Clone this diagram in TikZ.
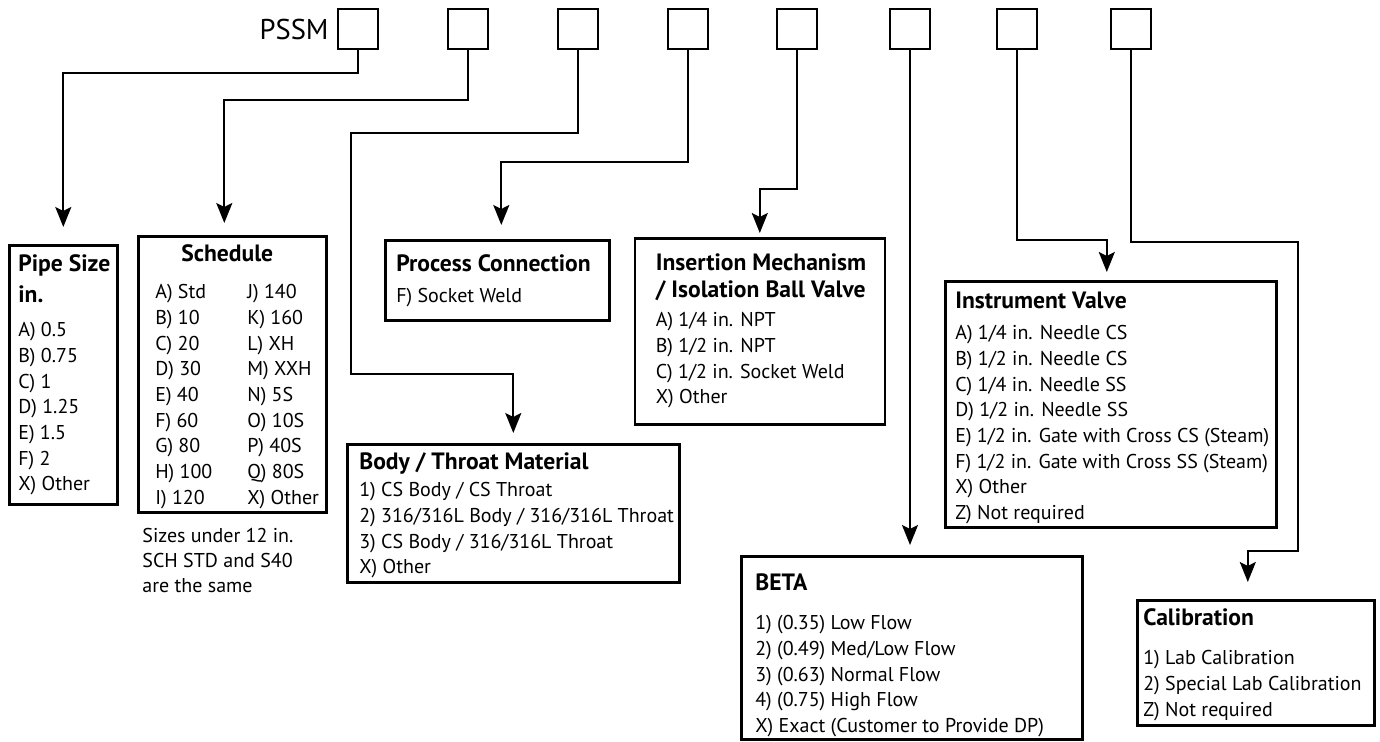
\documentclass[tikz,border=0pt]{standalone}
\usepackage{fontspec}
\setmainfont{PT Sans}
\usetikzlibrary{arrows.meta, positioning}
\newcommand{\optfont}{\fontsize{10}{12.85}\selectfont}
\newcommand{\opttitle}[1]{{\bfseries\fontsize{11.8}{12.85}\selectfont #1}}
\newcommand{\opttext}[4][@{}l@{}]{\parbox[b][#3][t]{#2}{\begin{tabular}[t]{#1}#4\end{tabular}}}

\begin{document}
\begin{tikzpicture}[
    x=0.5pt, y=-0.5pt,
    >={Stealth[length=10pt, width=8pt, inset=2pt]},
    digit/.style={draw, line width=1pt, minimum width=20pt, minimum height=20pt, inner sep=0pt},
    optbox/.style={draw, line width=1.3pt, anchor=north west, inner ysep=0pt, inner xsep=#1, font=\optfont},
    link/.style={->, line width=1pt},
]
    \useasboundingbox (0,0) rectangle (1380,742);

    % code boxes
    \foreach \x [count=\i] in {358,468,578,688,797,910,1017,1131}
        \node[digit] (d\i) at (\x,29) {};
    \node[font=\fontsize{14.3}{16}\selectfont, inner sep=0pt, left=4pt of d1] (pssm) {PSSM};

    % option boxes
    \node[optbox=4.5pt] (pipe) at (8,244) {\opttext{45pt}{129.5pt}{%
        \rule{0pt}{13pt}\opttitle{Pipe Size}\\[2.65pt]
        \opttitle{in.}\\[4.4pt]
        A) 0.5\\ B) 0.75\\ C) 1\\ D) 1.25\\ E) 1.5\\ F) 2\\ X) Other}};
    \node[optbox=8.5pt] (sched) at (137,235) {\opttext[@{}p{46pt}@{}l@{}]{77pt}{138pt}{%
        \multicolumn{2}{@{\hspace{13pt}}l@{}}{\rule{0pt}{12.5pt}\opttitle{Schedule}}\\[5.9pt]
        A) Std & J) 140\\ B) 10 & K) 160\\ C) 20 & L) XH\\
        D) 30 & M) XXH\\ E) 40 & N) 5S\\ F) 60 & O) 10S\\
        G) 80 & P) 40S\\ H) 100 & Q) 80S\\ I) 120 & X) Other}};
    \node[font=\fontsize{10}{12.5}\selectfont, align=left, inner sep=0pt,
        below right=7pt and 2.5pt of sched.south west] (schednote)
        {Sizes under 12 in.\\SCH STD and S40\\are the same};
    \node[optbox=5.5pt] (proc) at (384,239) {\opttext{101pt}{40pt}{%
        \rule{0pt}{15.5pt}\opttitle{Process Connection}\\[2.9pt]
        F) Socket Weld}};
    \node[optbox=10.5pt] (ins) at (633.5,237) {\opttext{104pt}{93pt}{%
        \rule{0pt}{16pt}\opttitle{Insertion Mechanism}\\[0.65pt]
        \opttitle{/ Isolation Ball Valve}\\[1.9pt]
        A) 1/4 in. NPT\\ B) 1/2 in. NPT\\ C) 1/2 in. Socket Weld\\ X) Other}};
    \node[optbox=6pt] (body) at (346,443) {\opttext{154pt}{69pt}{%
        \rule{0pt}{12.5pt}\opttitle{Body / Throat Material}\\[0.9pt]
        1) CS Body / CS Throat\\ 2) 316/316L Body / 316/316L Throat\\
        3) CS Body / 316/316L Throat\\ X) Other}};
    \node[optbox=5pt] (inst) at (944,280) {\opttext{155.5pt}{123pt}{%
        \rule{0pt}{13.5pt}\opttitle{Instrument Valve}\\[2.9pt]
        A) 1/4 in. Needle CS\\ B) 1/2 in. Needle CS\\
        C) 1/4 in. Needle SS\\ D) 1/2 in. Needle SS\\
        E) 1/2 in. Gate with Cross CS (Steam)\\
        F) 1/2 in. Gate with Cross SS (Steam)\\
        X) Other\\ Z) Not required}};
    \node[optbox=7pt] (beta) at (740,555) {\opttext{156.5pt}{91.5pt}{%
        \rule{0pt}{17pt}\opttitle{BETA}\\[6.9pt]
        1) (0.35) Low Flow\\ 2) (0.49) Med/Low Flow\\
        3) (0.63) Normal Flow\\ 4) (0.75) High Flow\\
        X) Exact (Customer to Provide DP)}};
    \node[optbox=3pt] (cal) at (1136,599) {\opttext{112.5pt}{62.5pt}{%
        \rule{0pt}{12.5pt}\opttitle{Calibration}\\[6.9pt]
        1) Lab Calibration\\ 2) Special Lab Calibration\\ Z) Not required}};

    % connectors
    \draw[link, shorten >=8.5pt] (d1.south) -- ++(0,23) -| (pipe.north);
    \draw[link, shorten >=6pt] (d2.south) -- ++(0,50) -| ([xshift=-4pt]sched.north);
    \draw[link, shorten >=5pt] (d3.south) -- ++(0,83) -- ++(-227,0) -- ++(0,241) -| (body.north);
    \draw[link, shorten >=7pt] (d4.south) -- ++(0,112) -| ([xshift=2pt]proc.north);
    \draw[link, shorten >=2pt] (d5.south) -- ++(0,139) -| (ins.north);
    \draw[link, shorten >=5pt] (d6.south) -- (d6.south |- beta.north);
    \draw[link, shorten >=4pt] (d7.south) -- ++(0,190) -| ([xshift=-2pt]inst.north);
    \draw[link, shorten >=8.5pt] (d8.south) -- ++(0,192) -- ++(167,0) -- ++(0,309) -| ([xshift=-4pt]cal.north);
\end{tikzpicture}
\end{document}
